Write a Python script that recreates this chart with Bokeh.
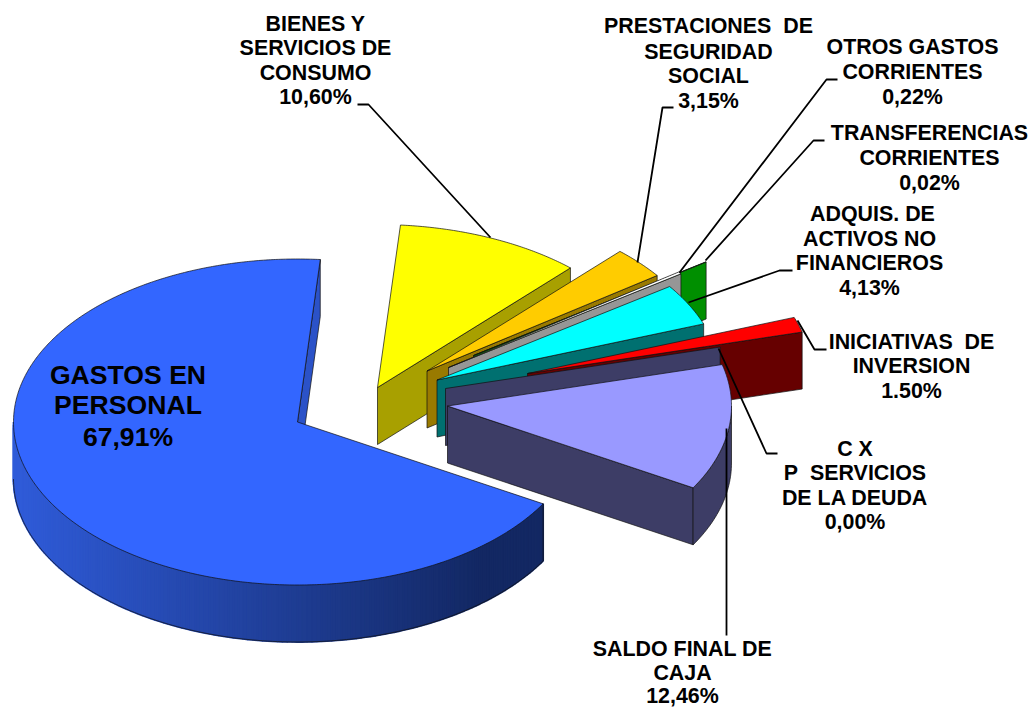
import numpy as np
from bokeh.core.properties import value
from bokeh.embed import file_html
from bokeh.models import Range1d
from bokeh.plotting import figure
from bokeh.resources import INLINE

# ---- data, counter-clockwise from the start of the largest slice ----
categories = ["GASTOS EN PERSONAL", "SALDO FINAL DE CAJA", "C X P SERVICIOS DE LA DEUDA",
              "INICIATIVAS DE INVERSION", "ADQUIS. DE ACTIVOS NO FINANCIEROS",
              "TRANSFERENCIAS CORRIENTES", "OTROS GASTOS CORRIENTES",
              "PRESTACIONES DE SEGURIDAD SOCIAL", "BIENES Y SERVICIOS DE CONSUMO"]
percent = [67.91, 12.46, 0.00, 1.50, 4.13, 0.02, 0.22, 3.15, 10.60]
top_colors = ["#3366FF", "#9999FF", "#9999FF", "#FF0000", "#00FFFF",
              "#00CC00", "#FFFFFF", "#FFCC00", "#FFFF00"]
wall_colors = ["#2B52C8", "#3D3D66", "#3D3D66", "#660000", "#007070",
               "#008F00", "#969696", "#997A00", "#A8A000"]
label_lines = [
    ["GASTOS EN", "PERSONAL", "67,91%"],
    ["SALDO FINAL DE", "CAJA", "12,46%"],
    ["C X", "P\u00a0 SERVICIOS", "DE LA DEUDA", "0,00%"],
    ["INICIATIVAS\u00a0 DE", "INVERSION", "1.50%"],
    ["\u00a0ADQUIS. DE", "ACTIVOS NO", "FINANCIEROS", "4,13%"],
    ["TRANSFERENCIAS", "CORRIENTES", "0,02%"],
    ["OTROS GASTOS", "CORRIENTES", "0,22%"],
    ["PRESTACIONES\u00a0 DE", "SEGURIDAD", "SOCIAL", "3,15%"],
    ["BIENES Y", "SERVICIOS DE", "CONSUMO", "10,60%"],
]

# ---- layout (page pixels) ----
W, H = 1030, 708
RX, RY, DEPTH = 284.0, 163.0, 57.0
START_DEG = 85.4
apex_x = [297.0, 447.0, 445.0, 527.0, 436.5, 473.0, 448.0, 426.5, 377.0]
apex_y = [421.5, 405.5, 388.0, 373.0, 379.5, 355.0, 367.0, 370.5, 387.0]
paint_order = [8, 7, 5, 6, 4, 3, 2, 1, 0]
label_cx = [127.5, 682, 854.5, 911, 869, 929, 912, 708, 315]
label_base = [
    [384, 414.5, 446], [656, 680, 703.5], [456, 480, 505, 529], [349, 373, 398],
    [221, 246, 270, 295], [140, 165, 190], [54, 79, 104], [33, 59, 83, 108], [31, 55, 80, 104],
]
BIG_PX, SMALL_PX = 26.6, 21.4
BASELINE_SHIFT = 0.37  # of the font size: where the browser puts the baseline
leaders = [
    ([726, 726], [428, 635]),
    ([718, 766, 777], [348, 453, 453]),
    ([797, 814, 826], [320, 349, 349]),
    ([688, 779, 792], [302, 270, 270]),
    ([705, 813, 824], [260, 140, 140]),
    ([679, 826, 837], [272, 79, 79]),
    ([637, 662, 673], [262, 107, 107]),
    ([490, 368, 357], [237, 104, 104]),
]

p = figure(width=W, height=H, x_range=Range1d(0, W), y_range=Range1d(H, 0),
           toolbar_location=None, output_backend="svg", min_border=0)
p.axis.visible = False
p.grid.visible = False
p.outline_line_color = None
p.background_fill_color = "white"


def rim(i, deg):
    rad = np.radians(deg)
    return apex_x[i] + RX * np.cos(rad), apex_y[i] - RY * np.sin(rad)


EDGE = dict(line_color="#101010", line_width=0.7)
bounds = START_DEG + np.concatenate([[0], np.cumsum(percent)]) * 3.6

for i in paint_order:
    t0, t1 = bounds[i], bounds[i + 1]
    # wall at the start of the slice, facing the viewer
    x0, y0 = rim(i, t0)
    p.patch([apex_x[i], x0, x0, apex_x[i]],
            [apex_y[i], y0, y0 + DEPTH, apex_y[i] + DEPTH],
            fill_color=wall_colors[i], **EDGE)
    # outer wall: only the part of the rim that is on the near side
    lo, hi = max(t0, 180.0), min(t1, 360.0)
    if hi > lo:
        deg = np.linspace(lo, hi, int(hi - lo) + 2)
        rx, ry = rim(i, deg)
        if i == 0:
            shade0, shade1 = np.array([0x30, 0x5C, 0xDA]), np.array([0x13, 0x28, 0x63])
            xs, ys, cols = [], [], []
            for k in range(len(deg) - 1):
                xs.append([rx[k], rx[k + 1], rx[k + 1], rx[k]])
                ys.append([ry[k], ry[k + 1], ry[k + 1] + DEPTH, ry[k] + DEPTH])
                f = np.clip((rx[k] - 13.0) / 470.0, 0, 1)
                c = (shade0 + (shade1 - shade0) * f).astype(int)
                cols.append("#%02x%02x%02x" % tuple(c))
            p.patches(xs, ys, fill_color=cols, line_color=cols, line_width=1.8)
            p.line(rx, ry + DEPTH, **EDGE)
            p.line([rx[-1], rx[-1]], [ry[-1], ry[-1] + DEPTH], **EDGE)
        else:
            p.patch(np.r_[rx, rx[::-1]], np.r_[ry, ry[::-1] + DEPTH],
                    fill_color=wall_colors[i], **EDGE)
    # top surface
    if t1 > t0:
        deg = np.linspace(t0, t1, max(2, int(t1 - t0) * 2 + 2))
        rx, ry = rim(i, deg)
        p.patch(np.r_[apex_x[i], rx], np.r_[apex_y[i], ry],
                fill_color=top_colors[i], **EDGE)

for lx, ly in leaders:
    p.line(lx, ly, line_color="black", line_width=1.8)

for i, lines in enumerate(label_lines):
    size = BIG_PX if i == 0 else SMALL_PX
    p.text([label_cx[i]] * len(lines), [b - BASELINE_SHIFT * size for b in label_base[i]], text=lines,
           text_font=value("Liberation Sans"), text_font_style="bold",
           text_font_size=f"{size}px",
           text_align="center", text_baseline="alphabetic", text_color="black")

open("out.html", "w").write(file_html(p, INLINE))
